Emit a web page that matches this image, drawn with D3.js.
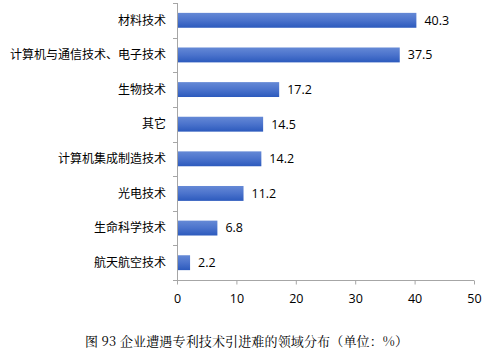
<!DOCTYPE html>
<html><head><meta charset="utf-8">
<script src="https://cdn.jsdelivr.net/npm/d3@7"></script>
<style>body{margin:0;background:#fff}svg{display:block}</style>
</head><body><svg id="c" width="499" height="359"></svg>
<script>
const categories = ["材料技术","计算机与通信技术、电子技术","生物技术","其它","计算机集成制造技术","光电技术","生命科学技术","航天航空技术"];
const values = [40.3,37.5,17.2,14.5,14.2,11.2,6.8,2.2];
const xTicks = [0,10,20,30,40,50];
const caption = "图 93 企业遭遇专利技术引进难的领域分布（单位：%）";

const svg = d3.select("#c");
const x0 = 177, x1 = 474, yTop = 3, yBot = 280;
const x = d3.scaleLinear().domain([0,50]).range([x0,x1]);
const y = d3.scaleBand().domain(categories).range([yTop,yBot]).paddingInner(0.57).paddingOuter(0.285);

const defs = svg.append("defs");
const g = defs.append("linearGradient").attr("id","bg").attr("x1",0).attr("y1",0).attr("x2",0).attr("y2",1);
g.append("stop").attr("offset","0%").attr("stop-color","#6589d6");
g.append("stop").attr("offset","50%").attr("stop-color","#4b73cc");
g.append("stop").attr("offset","100%").attr("stop-color","#2c5abd");

const font = "'Noto Sans CJK SC', 'Open Sans', sans-serif";

svg.selectAll("rect.bar").data(values).join("rect").attr("class","bar")
  .attr("x", x(0)).attr("y",(d,i)=>y(categories[i]))
  .attr("width", d=>x(d)-x(0)).attr("height", y.bandwidth())
  .attr("fill","url(#bg)");

svg.selectAll("text.val").data(values).join("text").attr("class","val")
  .attr("x", d=>x(d)+8).attr("y",(d,i)=>y(categories[i])+y.bandwidth()/2)
  .attr("dy","0.35em").attr("font-family","'Open Sans', sans-serif").attr("font-size",12.5).attr("fill","#000")
  .text(d=>d.toFixed(1));

// y axis
const yAxisG = svg.append("g");
yAxisG.append("line").attr("x1",x0+0.5).attr("x2",x0+0.5).attr("y1",yTop).attr("y2",yBot).attr("stroke","#a6a6a6");
const step = (yBot-yTop)/categories.length;
d3.range(categories.length+1).forEach(i=>{
  const yy = Math.round(yTop+i*step)+0.5;
  yAxisG.append("line").attr("x1",x0-4).attr("x2",x0+0.5).attr("y1",yy).attr("y2",yy).attr("stroke","#a6a6a6");
});
svg.selectAll("text.cat").data(categories).join("text").attr("class","cat")
  .attr("x",166).attr("y",d=>y(d)+y.bandwidth()/2).attr("dy","0.35em")
  .attr("text-anchor","end").attr("font-family",font).attr("font-size",12).attr("fill","#000").text(d=>d);

// x axis
const xAxis = d3.axisBottom(x).tickValues(xTicks).tickSize(4).tickFormat(d3.format("d"));
const xg = svg.append("g").attr("transform",`translate(0,${yBot+0.5})`).call(xAxis);
xg.select(".domain").attr("stroke","#a6a6a6").attr("d",`M${x0},0H${x1}`);
xg.selectAll(".tick line").attr("stroke","#a6a6a6");
xg.selectAll(".tick text").attr("font-family","'Open Sans', sans-serif").attr("font-size",12.5).attr("fill","#000").attr("y",14);

svg.append("text").attr("x",85).attr("y",346).attr("font-family","'Noto Serif CJK SC','Noto Sans CJK SC',serif")
  .attr("font-size",13).attr("fill","#000").attr("textLength",323).text(caption);
</script></body></html>
